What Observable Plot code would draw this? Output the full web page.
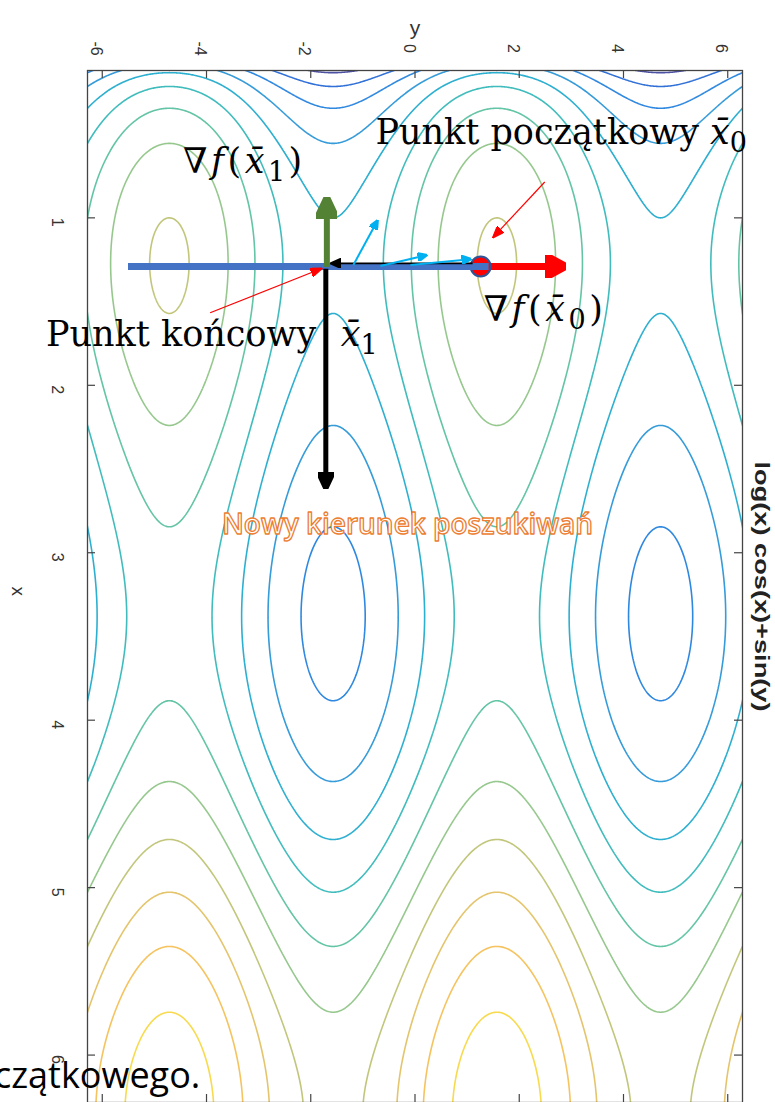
<!DOCTYPE html>
<html><head><meta charset="utf-8">
<script src="https://cdn.jsdelivr.net/npm/d3@7"></script>
<script src="https://cdn.jsdelivr.net/npm/@observablehq/plot@0.6"></script>
<style>html,body{margin:0;padding:0;background:#fff;} #chart svg{display:block;overflow:visible}</style>
</head><body><div id="chart"></div>
<script>
// ---- chart content ----
const chartTitle = "log(x) cos(x)+sin(y)";
const contourLevels = [-3, -2.5, -2, -1.5, -1, -0.5, 0, 0.5, 1, 1.5, 2, 2.5];
const yTicks = [-6, -4, -2, 0, 2, 4, 6];      // horizontal axis "y"
const xTicks = [1, 2, 3, 4, 5, 6];            // vertical axis "x"
const yRange = [-2 * Math.PI, 2 * Math.PI];
const xRange = [0.12, 2 * Math.PI];
const colorRange = [-3.1, 2.84];
const parula = ["#352a87", "#0363e1", "#1485d4", "#06a7c6", "#38b99e", "#92bf73", "#d9ba56", "#f7b840", "#f5ea20"];

// ---- search path annotations (h = y value, v = x value) ----
const searchLine = [{h1: -5.506, v1: 1.290, h2: 1.413, v2: 1.290}];
const startPoint = [{h: 1.259, v: 1.290}];
const gradStart = [{h1: 1.355, v1: 1.290, h2: 2.508, v2: 1.290}];
const gradEnd = [{h1: -1.691, v1: 1.293, h2: -1.691, v2: 1.000}];
const newDirection = [{h1: -1.711, v1: 1.304, h2: -1.711, v2: 2.521}];
const stepBack = [{h1: 1.105, v1: 1.272, h2: -1.432, v2: 1.272}];
const zigzag = [
  {h1: -1.182, v1: 1.281, h2: -0.794, v2: 1.059},
  {h1: -0.663, v1: 1.287, h2: 0.071, v2: 1.234},
  {h1: -0.086, v1: 1.281, h2: 0.913, v2: 1.251}
];
const pointers = [
  {h1: -3.930, v1: 1.567, h2: -1.972, v2: 1.325},
  {h1: 2.489, v1: 0.786, h2: 1.628, v2: 1.073}
];
const serifLabels = [
  {h: -0.759, v: 0.559, t: "Punkt początkowy *x̄*_0"},
  {h: -7.080, v: 1.764, t: "Punkt końcowy\u2002\u2009*x̄*_1"}
];
const gradientLabels = [
  {h: -4.449, v: 0.732, t: "∇*f*(*x̄*_1)"},
  {h: 1.317, v: 1.615, t: "∇*f*(*x̄*_0)"}
];
const directionLabel = [{h: -0.144, v: 2.891, t: "Nowy kierunek poszukiwań"}];
const slideText = [{h: -4.120, v: 6.196, t: "czątkowego."}];

// ---- filled triangular arrow head ----
function head(len, wid) {
  return (color) => {
    const m = d3.create("svg:marker")
      .attr("viewBox", `0 ${-wid / 2} ${len} ${wid}`)
      .attr("markerWidth", len).attr("markerHeight", wid)
      .attr("markerUnits", "userSpaceOnUse")
      .attr("refX", 1).attr("refY", 0)
      .attr("orient", "auto");
    m.append("path").attr("d", `M0,${-wid / 2}L${len},0L0,${wid / 2}Z`).attr("fill", color);
    return m.node();
  };
}
const link = (data, o) => Plot.link(data, {x1: "h1", y1: "v1", x2: "h2", y2: "v2", ...o});
const axisFont = "Liberation Sans, Arial, sans-serif";
const serif = "DejaVu Serif, serif";

const svg = Plot.plot({
  width: 775, height: 1102,
  marginTop: 70, marginLeft: 87, marginRight: 33, marginBottom: 0,
  x: {domain: yRange, axis: null},
  y: {domain: xRange, reverse: true, axis: null},
  color: {type: "linear", domain: colorRange, interpolate: d3.piecewise(d3.interpolateRgb, parula)},
  marks: [
    // sampled past the frame and clipped, so no contour runs along the border
    Plot.contour({
      x1: yRange[0] - 0.3, x2: yRange[1] + 0.3, y1: 0.02, y2: xRange[1] + 0.2,
      value: (h, v) => Math.log(v) * Math.cos(v) + Math.sin(h),
      thresholds: contourLevels, stroke: "value", fill: "none",
      strokeWidth: 1.6, strokeOpacity: 0.85, pixelSize: 1, clip: true
    }),
    Plot.frame({stroke: "#444", strokeWidth: 1.3}),
    Plot.tickX(yTicks, {x: d => d, insetBottom: 1032 - 8, stroke: "#444", strokeWidth: 1.2}),
    Plot.tickX(yTicks, {x: d => d, insetTop: 1032 - 8, stroke: "#444", strokeWidth: 1.2}),
    Plot.tickY(xTicks, {y: d => d, insetRight: 655 - 8, stroke: "#444", strokeWidth: 1.2}),
    Plot.tickY(xTicks, {y: d => d, insetLeft: 655 - 8, stroke: "#444", strokeWidth: 1.2}),
    Plot.text(yTicks, {x: d => d, frameAnchor: "top", dy: -22, rotate: 90, text: d => String(d), fontSize: 16, fontFamily: axisFont, fill: "#333"}),
    Plot.text(xTicks, {y: d => d, frameAnchor: "left", dx: -30, rotate: 90, text: d => String(d), fontSize: 16, fontFamily: axisFont, fill: "#333"}),
    Plot.text(["y"], {frameAnchor: "top", dy: -50, fontSize: 21, fontFamily: axisFont, fill: "#333"}),
    Plot.text(["x"], {frameAnchor: "left", dx: -69, rotate: 90, fontSize: 19, fontFamily: axisFont, fill: "#333"}),
    Plot.text([chartTitle], {frameAnchor: "right", dx: 19, rotate: 90, fontSize: 21, fontWeight: "bold", fontFamily: axisFont, fill: "#222"}),
    // search path
    link(gradStart, {stroke: "#ff0000", strokeWidth: 7, markerEnd: head(21, 23)}),
    Plot.dot(startPoint, {x: "h", y: "v", r: 10, fill: "#ff0000", stroke: "#2f5597", strokeWidth: 2}),
    link(searchLine, {stroke: "#4472c4", strokeWidth: 7}),
    link(stepBack, {stroke: "#000", strokeWidth: 1.8, markerEnd: head(11, 10)}),
    link(zigzag, {stroke: "#00b0f0", strokeWidth: 2, markerEnd: head(10, 9)}),
    link(gradEnd, {stroke: "#548235", strokeWidth: 6, markerEnd: head(22, 21)}),
    link(newDirection, {stroke: "#000", strokeWidth: 5, markerEnd: head(17, 16)}),
    link(pointers, {stroke: "#ff0000", strokeWidth: 1.2, markerEnd: head(12, 9)}),
    // labels
    Plot.text(serifLabels, {x: "h", y: "v", text: "t", textAnchor: "start", lineAnchor: "bottom", fontFamily: serif, fontSize: 35, fill: "#000"}),
    Plot.text(gradientLabels, {x: "h", y: "v", text: "t", textAnchor: "start", lineAnchor: "bottom", fontFamily: serif, fontSize: 35, fill: "#000"}),
    Plot.text(directionLabel, {x: "h", y: "v", text: "t", textAnchor: "middle", lineAnchor: "bottom", fontFamily: "Open Sans, sans-serif", fontWeight: 600, fontSize: 28, fill: "#fff", stroke: "#ed7d31", strokeWidth: 1.3, paintOrder: "normal"}),
    Plot.text(slideText, {x: "h", y: "v", text: "t", textAnchor: "end", lineAnchor: "bottom", fontFamily: "Open Sans, sans-serif", fontSize: 36, fill: "#000"})
  ]
});
document.getElementById("chart").append(svg);

// rich text: *italic* and _subscript; stretched rotated title
const NS = "http://www.w3.org/2000/svg";
const titleLength = 250;
svg.querySelectorAll("text").forEach(el => {
  const src = el.textContent;
  if (src === chartTitle) {
    el.setAttribute("text-anchor", "start");
    el.setAttribute("x", -titleLength / 2);
    el.setAttribute("textLength", titleLength);
    el.setAttribute("lengthAdjust", "spacingAndGlyphs");
    return;
  }
  if (!/[*_]/.test(src)) return;
  if (src.startsWith("∇")) el.setAttribute("letter-spacing", "3.5");
  el.textContent = "";
  let shifted = false;
  for (const tok of src.split(/(\*[^*]+\*|_\d)/).filter(Boolean)) {
    const ts = document.createElementNS(NS, "tspan");
    if (tok[0] === "_") {
      ts.textContent = tok.slice(1);
      ts.setAttribute("font-size", "27");
      ts.setAttribute("dy", "8");
      shifted = true;
    } else {
      if (tok[0] === "*") { ts.textContent = tok.slice(1, -1); ts.setAttribute("font-style", "italic"); }
      else ts.textContent = tok;
      if (shifted) { ts.setAttribute("dy", "-8"); shifted = false; }
    }
    el.appendChild(ts);
  }
});
</script>
</body></html>
